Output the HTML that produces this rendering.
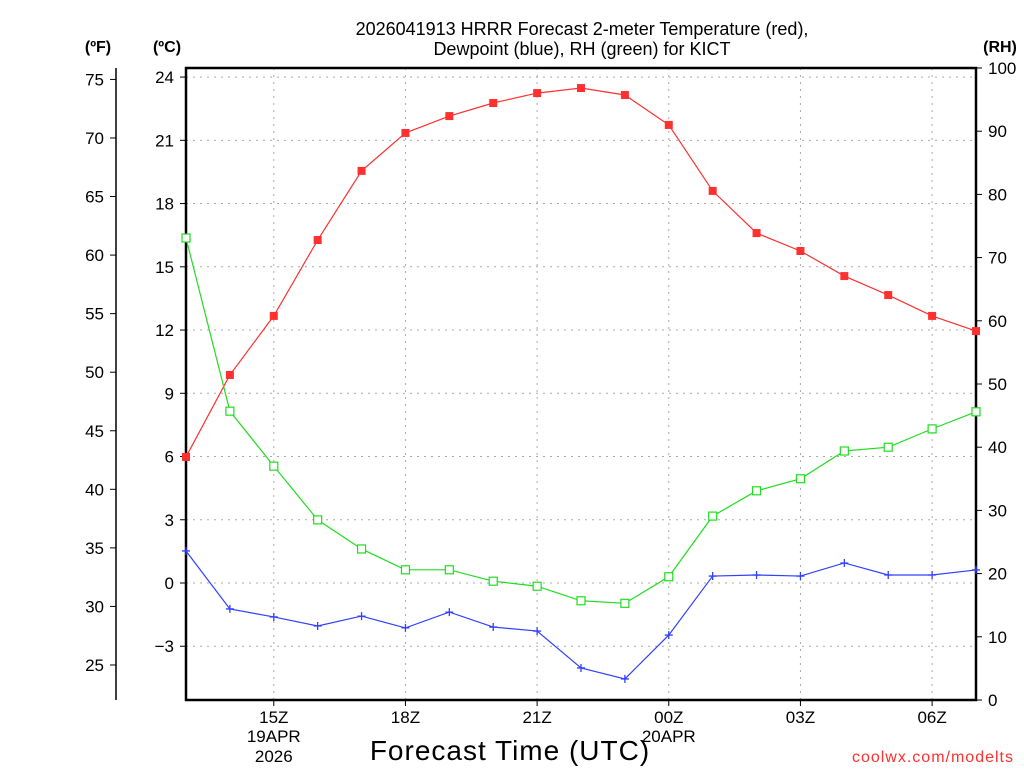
<!DOCTYPE html>
<html><head><meta charset="utf-8"><style>
body{margin:0;background:#fff;}
svg text{font-family:"Liberation Sans",sans-serif;}
</style></head><body>
<svg id="chart" width="1024" height="768" xmlns="http://www.w3.org/2000/svg">
<g id="grid"></g>
<g id="axes"></g>
<g id="series"></g>
<text x="582" y="35" font-size="18" text-anchor="middle">2026041913 HRRR Forecast 2-meter Temperature (red),</text>
<text x="582" y="55" font-size="18" text-anchor="middle">Dewpoint (blue), RH (green) for KICT</text>
<text x="98" y="52" font-size="16" font-weight="bold" text-anchor="middle">(ºF)</text>
<text x="167" y="52" font-size="16" font-weight="bold" text-anchor="middle">(ºC)</text>
<text x="1000" y="52" font-size="16" font-weight="bold" text-anchor="middle">(RH)</text>
<text x="510" y="760" font-size="28" text-anchor="middle" letter-spacing="1">Forecast Time (UTC)</text>
<text x="1014" y="762" font-size="16" fill="#ff3030" text-anchor="end" letter-spacing="1">coolwx.com/modelts</text>
</svg>
<script>
const hours=[0,1,2,3,4,5,6,7,8,9,10,11,12,13,14,15,16,17,18];
const tempC=[5.98,9.87,12.67,16.27,19.55,21.35,22.15,22.77,23.24,23.48,23.15,21.73,18.6,16.6,15.75,14.56,13.66,12.67,11.95];
const dewC=[1.52,-1.23,-1.61,-2.04,-1.57,-2.13,-1.38,-2.09,-2.28,-4.03,-4.55,-2.47,0.33,0.38,0.33,0.95,0.38,0.38,0.62];
const rh=[73.1,45.7,37.0,28.5,23.9,20.6,20.6,18.8,18.0,15.7,15.3,19.5,29.1,33.1,35.0,39.4,40.0,42.9,45.6];
const cTicks=[-3,0,3,6,9,12,15,18,21,24];
const fTicks=[25,30,35,40,45,50,55,60,65,70,75];
const rhTicks=[0,10,20,30,40,50,60,70,80,90,100];
const xTickHours=[2,5,8,11,14,17];
const xTickLabels=["15Z","18Z","21Z","00Z","03Z","06Z"];
const L=186,R=976,T=68,B=700;
const X=h=>L+h*(R-L)/18;
const YC=c=>583-c*21.08;
const YF=f=>YC((f-32)*5/9);
const YR=r=>B-r*(B-T)/100;
const NS="http://www.w3.org/2000/svg";
function mk(tag,attrs,parent,text){const e=document.createElementNS(NS,tag);for(const k in attrs)e.setAttribute(k,attrs[k]);if(text!==undefined)e.textContent=text;parent.appendChild(e);return e;}
const grid=document.getElementById('grid'),axes=document.getElementById('axes'),series=document.getElementById('series');
cTicks.forEach(c=>{const y=YC(c);
 const g=mk('line',{x1:L,x2:R,y1:y,y2:y,stroke:'#aaa','stroke-dasharray':'2,5'},grid);
 
 
 mk('line',{x1:L-6,x2:L,y1:y,y2:y,stroke:'#000'},axes);
 const t=mk('text',{x:L-12,y:y+6,'font-size':17,'text-anchor':'end'},axes,(c<0?'\u2212'+(-c):c));
 
 
});
xTickHours.forEach((h,i)=>{const x=X(h);
 const g=mk('line',{x1:x,x2:x,y1:T,y2:B,stroke:'#aaa','stroke-dasharray':'2,5'},grid);
 
 
 mk('line',{x1:x,x2:x,y1:B,y2:B+6,stroke:'#000'},axes);
 const t=mk('text',{x:x,y:B+23,'font-size':17,'text-anchor':'middle'},axes,xTickLabels[i]);
 
 
});
[["19APR",X(2),742],["2026",X(2),762],["20APR",X(11),742]].forEach(d=>{
 const t=mk('text',{x:d[1],y:d[2],'font-size':17,'text-anchor':'middle'},axes,d[0]);
 
 
});
mk('line',{x1:116,x2:116,y1:T,y2:B,stroke:'#000','stroke-width':1.5},axes);
fTicks.forEach(f=>{const y=YF(f);
 mk('line',{x1:110,x2:116,y1:y,y2:y,stroke:'#000'},axes);
 const t=mk('text',{x:104,y:y+6,'font-size':17,'text-anchor':'end'},axes,f);
 
 
});
rhTicks.forEach(r=>{const y=YR(r);
 mk('line',{x1:R,x2:R+6,y1:y,y2:y,stroke:'#000'},axes);
 const t=mk('text',{x:R+12,y:y+6,'font-size':17},axes,r);
 
 
});
const fr=mk('rect',{x:L,y:T,width:R-L,height:B-T,fill:'none',stroke:'#000','stroke-width':2.5},axes);


function line(vals,yf,color,name){
 const p=mk('polyline',{points:vals.map((v,i)=>X(hours[i])+','+yf(v)).join(' '),fill:'none',stroke:color,'stroke-width':1.2},series);
 
 
}
line(tempC,YC,'#ff3030','temperature-line');
line(dewC,YC,'#3040ff','dewpoint-line');
line(rh,YR,'#20dd20','rh-line');
tempC.forEach((v,i)=>{const m=mk('rect',{x:X(hours[i])-4,y:YC(v)-4,width:8,height:8,fill:'#ff3030'},series);
 
 });
rh.forEach((v,i)=>{const m=mk('rect',{x:X(hours[i])-4,y:YR(v)-4,width:8,height:8,fill:'#fff',stroke:'#20dd20','stroke-width':1.2},series);
 
 });
dewC.forEach((v,i)=>{const x=X(hours[i]),y=YC(v);
 const m=mk('path',{d:`M${x-4},${y}H${x+4}M${x},${y-4}V${y+4}`,stroke:'#3040ff','stroke-width':1.3},series);
 
 });
</script>
</body></html>
